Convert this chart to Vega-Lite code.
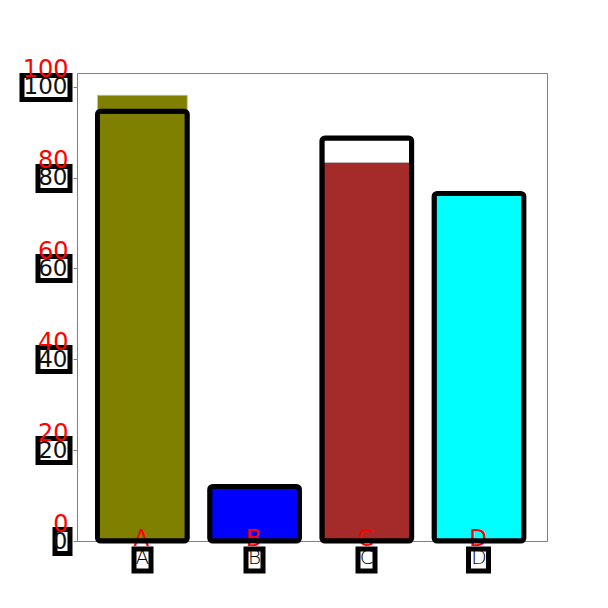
{
  "$schema": "https://vega.github.io/schema/vega-lite/v6.json",
  "autosize": "none",
  "width": 470,
  "height": 468,
  "padding": {"left": 77, "top": 73, "right": 61, "bottom": 67},
  "background": "white",
  "config": {"view": {"stroke": "#808080", "strokeWidth": 1}, "axis": {"grid": false, "domain": false, "title": null, "labelOverlap": false, "labelFlush": false}},
  "data": {"values": [
    {"cat": "A", "fill": 98.1, "outline": 94.6},
    {"cat": "B", "fill": 12.0, "outline": 12.0},
    {"cat": "C", "fill": 83.3, "outline": 88.7},
    {"cat": "D", "fill": 76.5, "outline": 76.5}
  ]},
  "layer": [
    {
      "mark": {"type": "bar", "stroke": "#c0c0c0", "strokeWidth": 1, "strokeOpacity": 0.7},
      "encoding": {
        "x": {"field": "cat", "type": "nominal", "scale": {"type": "band", "paddingInner": 0.2, "paddingOuter": 0.1944, "align": 0.47},
          "axis": {"orient": "bottom", "offset": 5, "labels": false, "ticks": true, "tickColor": "black", "tickSize": 27,
            "tickWidth": {"condition": {"test": "datum.value === 'D'", "value": 25}, "value": 22}, "zindex": 1}},
        "y": {"field": "fill", "type": "quantitative", "scale": {"domain": [0, 103], "nice": false, "zero": true},
          "axis": {"orient": "left", "offset": 5, "values": [0, 20, 40, 60, 80, 100], "labels": false, "ticks": true, "tickColor": "black", "tickWidth": 29,
            "tickSize": {"condition": [{"test": "datum.value === 100", "value": 53}, {"test": "datum.value === 0", "value": 20}], "value": 37}, "zindex": 1}},
        "fill": {"field": "cat", "type": "nominal", "scale": {"domain": ["A", "B", "C", "D"], "range": ["#808000", "#0000ff", "#a52a2a", "#00ffff"]}, "legend": null}
      }
    },
    {
      "mark": {"type": "text", "baseline": "alphabetic", "dy": 5, "dx": -1, "fontSize": 23, "font": "DejaVu Sans", "fill": "red"},
      "encoding": {
        "x": {"field": "cat", "type": "nominal", "scale": {"type": "band", "paddingInner": 0.2, "paddingOuter": 0.1944, "align": 0.47},
          "axis": {"orient": "bottom", "offset": 10, "labels": false, "ticks": true, "tickColor": "white", "tickSize": 17,
            "tickWidth": {"condition": {"test": "datum.value === 'D'", "value": 15}, "value": 12}, "zindex": 2}},
        "y": {"datum": 0, "type": "quantitative", "scale": {"domain": [0, 103], "nice": false, "zero": true},
          "axis": {"orient": "left", "offset": 10, "values": [0, 20, 40, 60, 80, 100], "labels": false, "ticks": true, "tickColor": "white", "tickWidth": 19,
            "tickSize": {"condition": [{"test": "datum.value === 100", "value": 43}, {"test": "datum.value === 0", "value": 10}], "value": 27}, "zindex": 2}},
        "text": {"field": "cat", "type": "nominal"}
      }
    },
    {
      "mark": {"type": "bar", "fillOpacity": 0, "stroke": "black", "strokeWidth": 5, "cornerRadius": 3},
      "encoding": {
        "x": {"field": "cat", "type": "nominal", "scale": {"type": "band", "paddingInner": 0.2, "paddingOuter": 0.1944, "align": 0.47},
          "axis": {"orient": "bottom", "offset": 0, "ticks": false, "tickSize": 0, "labelPadding": 6, "labelAngle": 0, "labelBaseline": "top",
            "labelFont": "DejaVu Sans", "labelFontSize": 20, "labelFontWeight": 300, "labelColor": "black", "zindex": 3}},
        "y": {"field": "outline", "type": "quantitative", "scale": {"domain": [0, 103], "nice": false, "zero": true},
          "axis": {"orient": "left", "offset": 0, "values": [0, 20, 40, 60, 80, 100], "ticks": true, "tickSize": 4, "tickColor": "#808080", "tickWidth": 1,
            "labelPadding": 6, "labelBaseline": "middle", "labelFont": "DejaVu Sans", "labelFontSize": 23, "labelFontWeight": 400, "labelColor": "#111111", "zindex": 3}}
      }
    },
    {
      "mark": {"type": "bar", "opacity": 0},
      "encoding": {
        "x": {"field": "cat", "type": "nominal", "scale": {"type": "band", "paddingInner": 0.2, "paddingOuter": 0.1944, "align": 0.47}, "axis": null},
        "y": {"field": "outline", "type": "quantitative", "scale": {"domain": [0, 103], "nice": false, "zero": true},
          "axis": {"orient": "left", "offset": 0, "values": [0, 20, 40, 60, 80, 100], "ticks": false, "tickSize": 0,
            "labelPadding": 9, "labelOffset": -10, "labelBaseline": "alphabetic", "labelFont": "DejaVu Sans", "labelFontSize": 24, "labelColor": "red", "zindex": 4}}
      }
    }
  ],
  "resolve": {"scale": {"x": "independent", "y": "independent"}, "axis": {"x": "independent", "y": "independent"}}
}
